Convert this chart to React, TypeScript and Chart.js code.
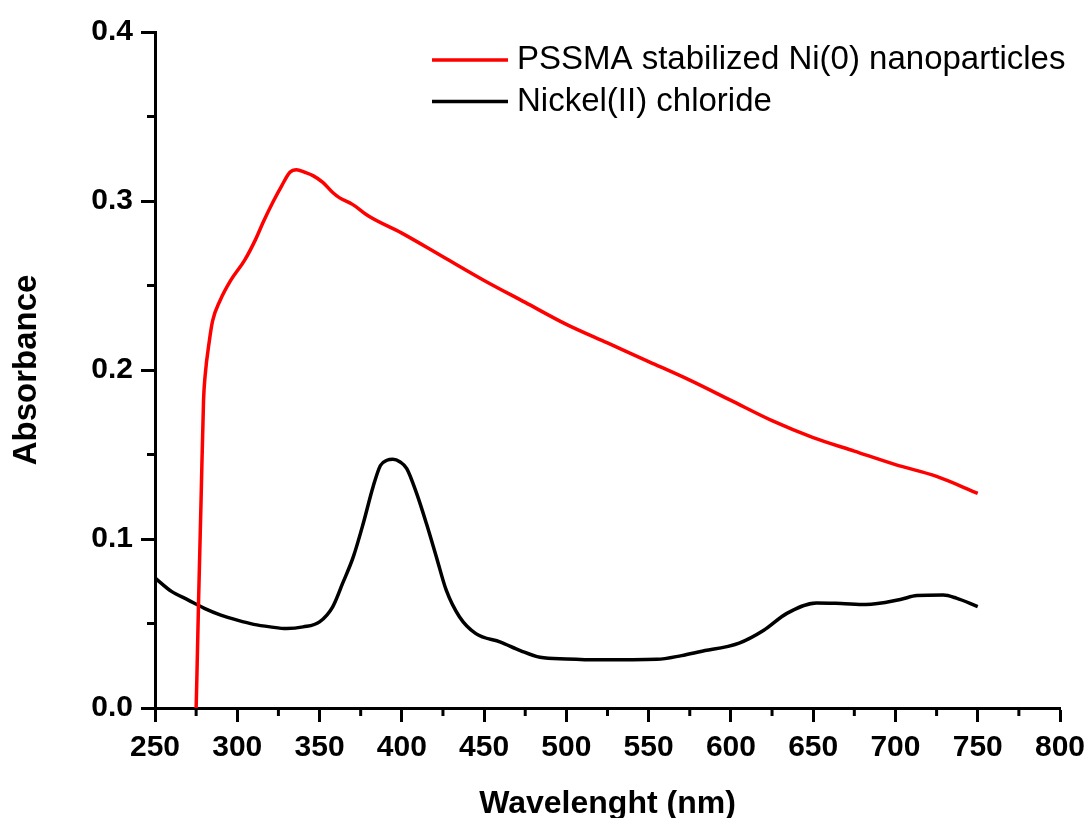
import React, { useEffect, useRef } from "react";
import { Chart, registerables } from "chart.js";

Chart.register(...registerables);

// Wavelength (nm) / absorbance pairs
const redWavelengths = [275, 275.5, 276.5, 278, 279.5, 280.5, 283, 285, 289.5, 296, 304.5, 311, 316, 322, 327, 332, 336, 341, 346, 352, 358, 362, 370, 380, 400, 425, 450, 475, 500, 525, 550, 575, 600, 625, 650, 675, 700, 725, 750];
const redAbsorbance = [0, 0.02, 0.064, 0.123, 0.182, 0.197, 0.217, 0.229, 0.241, 0.253, 0.265, 0.277, 0.288, 0.3, 0.309, 0.317, 0.3185, 0.317, 0.315, 0.311, 0.305, 0.302, 0.298, 0.291, 0.281, 0.267, 0.253, 0.24, 0.227, 0.216, 0.205, 0.194, 0.182, 0.17, 0.16, 0.152, 0.144, 0.137, 0.127];

const blackWavelengths = [250, 260, 270, 280, 290, 300, 310, 320, 330, 340, 350, 358, 364, 370.5, 376.5, 382.5, 387, 391, 394.5, 399, 403, 409, 415, 421, 427, 435, 445, 460, 472, 484, 500, 520, 555, 570, 581, 605, 620, 634, 652, 667, 682, 703, 713, 729, 737, 750];
const blackAbsorbance = [0.077, 0.069, 0.064, 0.059, 0.055, 0.052, 0.0495, 0.048, 0.047, 0.048, 0.051, 0.0599, 0.0737, 0.0894, 0.109, 0.1308, 0.1435, 0.1466, 0.1472, 0.1456, 0.1417, 0.127, 0.109, 0.0894, 0.0697, 0.054, 0.044, 0.039, 0.034, 0.03, 0.029, 0.0285, 0.0288, 0.031, 0.0333, 0.0384, 0.046, 0.056, 0.0622, 0.0618, 0.0612, 0.0642, 0.0665, 0.0668, 0.065, 0.06];

const seriesLabels = ["PSSMA stabilized Ni(0) nanoparticles", "Nickel(II) chloride"];
const seriesColors = ["#ff0000", "#000000"];

const xMinorTicks = [275, 325, 375, 425, 475, 525, 575, 625, 675, 725, 775];
const yMinorTicks = [0.05, 0.15, 0.25, 0.35];

const FONT = '"Liberation Sans", Arial, sans-serif';

const toPoints = (xs: number[], ys: number[]) => xs.map((x, i) => ({ x, y: ys[i] }));

const minorTicksPlugin = {
  id: "minorTicks",
  afterDraw(chart: any) {
    const ctx = chart.ctx;
    const xs = chart.scales.x;
    const ys = chart.scales.y;
    const area = chart.chartArea;
    ctx.save();
    ctx.strokeStyle = "#000";
    ctx.lineWidth = 3;
    ctx.beginPath();
    xMinorTicks.forEach((v) => {
      const px = xs.getPixelForValue(v);
      ctx.moveTo(px, area.bottom);
      ctx.lineTo(px, area.bottom + 8);
    });
    yMinorTicks.forEach((v) => {
      const py = ys.getPixelForValue(v);
      ctx.moveTo(area.left - 8, py);
      ctx.lineTo(area.left, py);
    });
    ctx.stroke();
    ctx.restore();
  },
};

const legendPlugin = {
  id: "innerLegend",
  afterDraw(chart: any) {
    const ctx = chart.ctx;
    ctx.save();
    chart.data.datasets.forEach((ds: any, i: number) => {
      const y = 60 + i * 41.5;
      ctx.strokeStyle = ds.borderColor;
      ctx.lineWidth = 3.5;
      ctx.beginPath();
      ctx.moveTo(432, y);
      ctx.lineTo(508, y);
      ctx.stroke();
      ctx.fillStyle = "#000";
      ctx.font = `33px ${FONT}`;
      ctx.textBaseline = "middle";
      ctx.textAlign = "left";
      ctx.fillText(ds.label, 517, y);
    });
    ctx.restore();
  },
};

export default function App() {
  const ref = useRef<HTMLCanvasElement | null>(null);

  useEffect(() => {
    if (!ref.current) return;
    const chart = new Chart(ref.current, {
      type: "line",
      data: {
        datasets: [
          {
            label: seriesLabels[0],
            data: toPoints(redWavelengths, redAbsorbance),
            borderColor: seriesColors[0],
            backgroundColor: seriesColors[0],
            borderWidth: 3.5,
            pointRadius: 0,
            cubicInterpolationMode: "monotone",
            fill: false,
          },
          {
            label: seriesLabels[1],
            data: toPoints(blackWavelengths, blackAbsorbance),
            borderColor: seriesColors[1],
            backgroundColor: seriesColors[1],
            borderWidth: 3.5,
            pointRadius: 0,
            cubicInterpolationMode: "monotone",
            fill: false,
          },
        ],
      },
      options: {
        animation: false,
        responsive: false,
        layout: { padding: { top: 32, right: 28, left: 0, bottom: 0 } },
        plugins: {
          legend: { display: false },
          tooltip: { enabled: false },
        },
        scales: {
          x: {
            type: "linear",
            min: 250,
            max: 800,
            afterFit: (s: any) => {
              s.height = 110;
              s.paddingLeft = 0;
              s.paddingRight = 0;
            },
            ticks: {
              stepSize: 50,
              color: "#000",
              padding: 8,
              font: { family: FONT, size: 30, weight: "bold" },
              maxRotation: 0,
            },
            grid: {
              display: true,
              drawOnChartArea: false,
              drawTicks: true,
              tickLength: 14,
              tickWidth: 3,
              tickColor: "#000",
            },
            border: { display: true, color: "#000", width: 3 },
            title: {
              display: true,
              text: "Wavelenght (nm)",
              color: "#000",
              font: { family: FONT, size: 32, weight: "bold", lineHeight: 0.875 },
              padding: 0,
            },
          },
          y: {
            type: "linear",
            min: 0,
            max: 0.4,
            afterFit: (s: any) => {
              s.width = 155;
            },
            ticks: {
              stepSize: 0.1,
              color: "#000",
              padding: 8,
              font: { family: FONT, size: 30, weight: "bold" },
              callback: (v: any) => Number(v).toFixed(1),
            },
            grid: {
              display: true,
              drawOnChartArea: false,
              drawTicks: true,
              tickLength: 14,
              tickWidth: 3,
              tickColor: "#000",
            },
            border: { display: true, color: "#000", width: 3 },
            title: {
              display: true,
              text: "Absorbance",
              color: "#000",
              font: { family: FONT, size: 33, weight: "bold", lineHeight: 1 },
              padding: { top: 10, bottom: 0 },
            },
          },
        },
      },
      plugins: [minorTicksPlugin, legendPlugin],
    });
    return () => chart.destroy();
  }, []);

  return (
    <div style={{ position: "absolute", left: 0, top: 0, width: 1088, height: 818, background: "#fff" }}>
      <canvas ref={ref} width={1088} height={818} />
    </div>
  );
}
